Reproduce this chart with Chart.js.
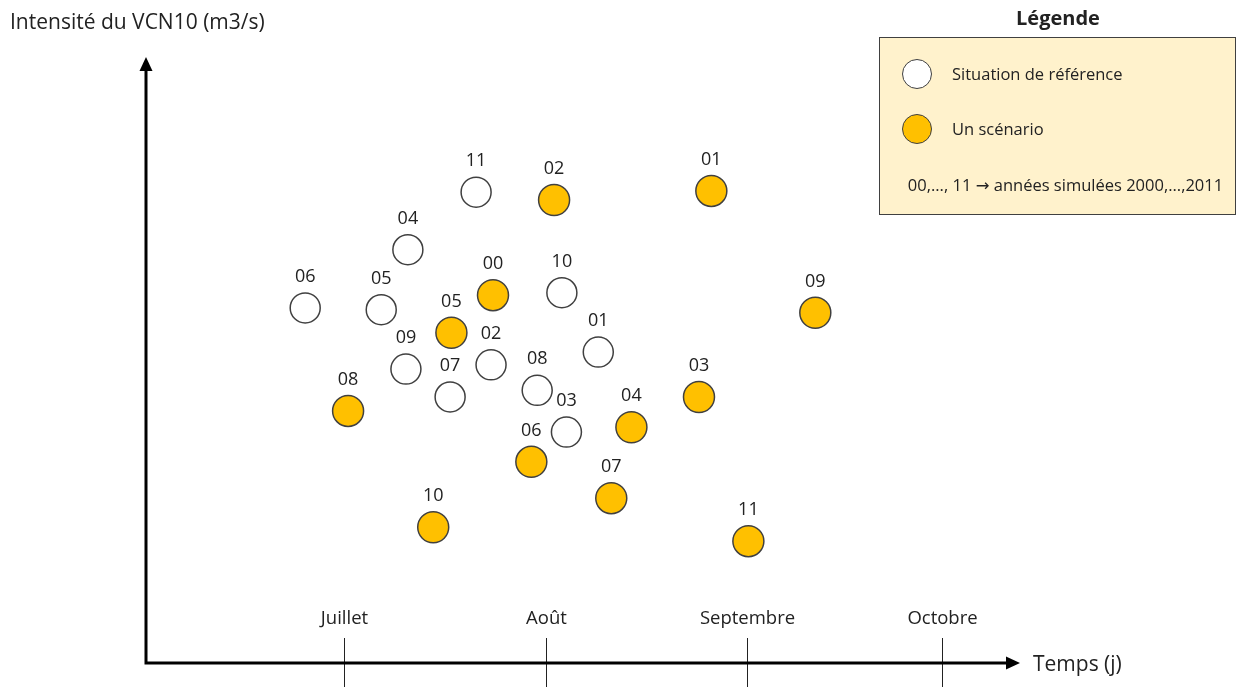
<!DOCTYPE html>
<html lang="fr">
<head>
<meta charset="utf-8">
<title>VCN10 - dates et intensités</title>
<script src="https://cdn.jsdelivr.net/npm/chart.js@4/dist/chart.umd.min.js"></script>
<style>
  html, body { margin: 0; padding: 0; background: #fff; overflow: hidden; }
  #wrap { position: relative; width: 1239px; height: 687px; font-family: 'Open Sans', sans-serif; color: #222; }
  #chart { position: absolute; left: 0; top: 0; }
  .ytitle { position: absolute; left: 10px; top: 7px; font-size: 21px; }
  .xtitle { position: absolute; left: 1033px; top: 649px; font-size: 21px; }
  .legend-title { position: absolute; left: 879px; width: 358px; top: 4px; text-align: center; font-size: 20px; font-weight: bold; }
  .legend-box { position: absolute; left: 879px; top: 37px; width: 355px; height: 176px; background: #fff2cc; border: 1.5px solid #404040; }
  .sym { position: absolute; width: 28px; height: 28px; border-radius: 50%; border: 1.5px solid #404040; }
  .lbl { position: absolute; font-size: 16.5px; }
  .arrow { font-family: 'DejaVu Sans', sans-serif; }
</style>
</head>
<body>
<div id="wrap">
  <canvas id="chart" width="1239" height="687"></canvas>
  <div class="ytitle">Intensité du VCN10 (m3/s)</div>
  <div class="xtitle">Temps (j)</div>
  <div class="legend-title">Légende</div>
  <div class="legend-box">
    <div class="sym" style="left:22px; top:21px; background:#fff;"></div>
    <div class="lbl" style="left:72px; top:24px;">Situation de référence</div>
    <div class="sym" style="left:22px; top:76px; background:#ffc000;"></div>
    <div class="lbl" style="left:72px; top:79px;">Un scénario</div>
    <div class="lbl" style="left:8px; width:355px; top:135px; text-align:center;">00,..., 11 <span class="arrow">&rarr;</span> années simulées 2000,...,2011</div>
  </div>
</div>
<script>
// x = jours depuis le 1er juillet, y = intensité (unités relatives)
const monthLabels = ['Juillet', 'Août', 'Septembre', 'Octobre'];
const monthDays = [0, 31, 62, 92];

const refYears = ['11', '04', '06', '05', '10', '09', '02', '07', '08', '01', '03'];
const refDays = [20.3, 9.8, -6.0, 5.7, 33.5, 9.5, 22.6, 16.3, 29.7, 39.1, 34.2];
const refValues = [77.7, 68.2, 58.6, 58.3, 61.1, 48.5, 49.2, 43.9, 45.0, 51.3, 38.1];

const scenYears = ['02', '01', '00', '05', '09', '08', '03', '04', '06', '07', '10', '11'];
const scenDays = [32.3, 56.5, 22.9, 16.5, 72.5, 0.6, 54.6, 44.2, 28.8, 41.1, 13.7, 62.2];
const scenValues = [76.4, 77.9, 60.7, 54.5, 57.8, 41.6, 43.9, 38.9, 33.2, 27.2, 22.4, 20.1];

const toPoints = (days, values) => days.map((d, i) => ({ x: d, y: values[i] }));

const FONT = '"Open Sans", sans-serif';

// axes with arrows, month ticks and year labels
const schemaPlugin = {
  id: 'schema',
  afterDatasetsDraw(chart) {
    const { ctx, chartArea, scales } = chart;
    const x0 = chartArea.left;
    const y0 = chartArea.bottom;
    ctx.save();

    // month ticks
    ctx.strokeStyle = '#222';
    ctx.lineWidth = 1;
    ctx.fillStyle = '#222';
    ctx.font = `18.5px ${FONT}`;
    ctx.textAlign = 'center';
    ctx.textBaseline = 'middle';
    monthDays.forEach((d, i) => {
      const px = Math.round(scales.x.getPixelForValue(d)) + 0.5;
      ctx.beginPath();
      ctx.moveTo(px, y0 - 25);
      ctx.lineTo(px, chart.height);
      ctx.stroke();
      ctx.fillText(monthLabels[i], px, y0 - 44);
    });

    // axes
    ctx.strokeStyle = '#000';
    ctx.fillStyle = '#000';
    ctx.lineWidth = 3;
    ctx.beginPath();
    ctx.moveTo(x0, y0);
    ctx.lineTo(x0, chartArea.top + 10);
    ctx.moveTo(x0 - 1.5, y0);
    ctx.lineTo(chartArea.right - 10, y0);
    ctx.stroke();
    ctx.beginPath();
    ctx.moveTo(x0, chartArea.top);
    ctx.lineTo(x0 - 6.5, chartArea.top + 14);
    ctx.lineTo(x0 + 6.5, chartArea.top + 14);
    ctx.closePath();
    ctx.fill();
    ctx.beginPath();
    ctx.moveTo(chartArea.right, y0);
    ctx.lineTo(chartArea.right - 14, y0 - 6.5);
    ctx.lineTo(chartArea.right - 14, y0 + 6.5);
    ctx.closePath();
    ctx.fill();

    // year labels above the circles
    ctx.fillStyle = '#222';
    ctx.font = `18px ${FONT}`;
    const yearSets = [refYears, scenYears];
    chart.data.datasets.forEach((ds, di) => {
      chart.getDatasetMeta(di).data.forEach((el, i) => {
        ctx.fillText(yearSets[di][i], el.x, el.y - 31);
      });
    });
    ctx.restore();
  },
};

new Chart(document.getElementById('chart'), {
  type: 'scatter',
  data: {
    datasets: [
      {
        label: 'Situation de référence',
        data: toPoints(refDays, refValues),
        backgroundColor: '#ffffff',
        borderColor: '#404040',
        borderWidth: 1.5,
        pointRadius: 15,
      },
      {
        label: 'Un scénario',
        data: toPoints(scenDays, scenValues),
        backgroundColor: '#ffc000',
        borderColor: '#404040',
        borderWidth: 1.5,
        pointRadius: 15.5,
      },
    ],
  },
  options: {
    responsive: false,
    devicePixelRatio: 1,
    animation: false,
    layout: { padding: { left: 146, right: 219, top: 57, bottom: 24 } },
    plugins: { legend: { display: false }, tooltip: { enabled: false } },
    scales: {
      x: { type: 'linear', display: false, min: -30.5, max: 104 },
      y: { type: 'linear', display: false, min: 0, max: 100 },
    },
  },
  plugins: [schemaPlugin],
});
</script>
</body>
</html>
